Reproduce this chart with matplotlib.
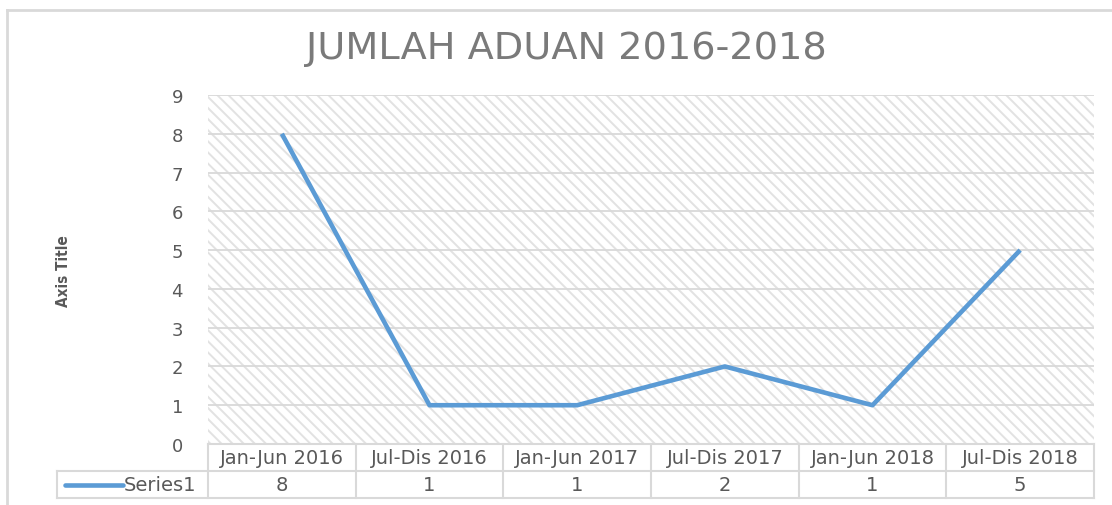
import matplotlib
matplotlib.use("Agg")
import matplotlib.pyplot as plt
from matplotlib.patches import Rectangle
from matplotlib.lines import Line2D

categories = ["Jan-Jun 2016", "Jul-Dis 2016", "Jan-Jun 2017", "Jul-Dis 2017", "Jan-Jun 2018", "Jul-Dis 2018"]
values = [8, 1, 1, 2, 1, 5]
series_name = "Series1"
title = "JUMLAH ADUAN 2016-2018"
y_title = "Axis Title"
y_ticks = list(range(0, 10))

BLUE = "#5B9BD5"
GRAY_TXT = "#595959"
GRID = "#d9d9d9"
FONT = "DejaVu Sans"

plt.rcParams["hatch.linewidth"] = 1.4
plt.rcParams["hatch.color"] = "#e2e2e2"

fig = plt.figure(figsize=(11.12, 5.06), dpi=100)
W, H = 1112, 506
ax = fig.add_axes([208 / W, 1 - 445 / H, (1094 - 208) / W, (445 - 96) / H])

n = len(categories)
xs = list(range(n))
ax.set_xlim(-0.5, n - 0.5)
ax.set_ylim(0, 9)

# hatched plot area
ax.add_patch(Rectangle((0, 0), 1, 1, transform=ax.transAxes, facecolor="white",
                       edgecolor="#e2e2e2", hatch="\\\\\\", lw=0, zorder=0))
for y in y_ticks[1:]:
    ax.axhline(y, color=GRID, lw=1.3, zorder=1)

ax.plot(xs, values, color=BLUE, lw=3.3, solid_capstyle="butt", zorder=3)

for s in ax.spines.values():
    s.set_visible(False)
ax.set_xticks([])
ax.set_yticks(y_ticks)
ax.tick_params(axis="y", length=0, pad=18, labelsize=13, labelcolor=GRAY_TXT)
for lbl in ax.get_yticklabels():
    lbl.set_fontfamily(FONT)

# data table
aw = 1094 - 208
ah = 445 - 96
r1 = -27 / ah
r2 = -54 / ah
tkw = dict(transform=ax.transAxes, color=GRID, lw=1.5, clip_on=False, zorder=2)
ax.add_line(Line2D([0, 1], [0, 0], **tkw))
ax.add_line(Line2D([(57 - 208) / aw, 1], [r1, r1], **tkw))
ax.add_line(Line2D([(57 - 208) / aw, 1], [r2, r2], **tkw))
ax.add_line(Line2D([(57 - 208) / aw] * 2, [r1, r2], **tkw))
for i in range(n + 1):
    xf = i / n
    ax.add_line(Line2D([xf, xf], [0, r2], **tkw))
for i, (c, v) in enumerate(zip(categories, values)):
    xc = (i + 0.5) / n
    ax.text(xc, r1 / 2, c, transform=ax.transAxes, ha="center", va="center",
            fontsize=14, color=GRAY_TXT, fontfamily=FONT)
    ax.text(xc, (r1 + r2) / 2, str(v), transform=ax.transAxes, ha="center", va="center",
            fontsize=14, color=GRAY_TXT, fontfamily=FONT)
# legend key in table
ym = (r1 + r2) / 2
ax.add_line(Line2D([(65 - 208) / aw, (123 - 208) / aw], [ym, ym], transform=ax.transAxes,
                   color=BLUE, lw=3.3, clip_on=False, solid_capstyle="round"))
ax.text((124 - 208) / aw, ym, series_name, transform=ax.transAxes, ha="left", va="center",
        fontsize=14, color=GRAY_TXT, fontfamily=FONT)

# title & axis title
fig.text(566 / W, 1 - 49 / H, title, ha="center", va="center", fontsize=27.5,
         color="#7a7a7a", fontfamily=FONT)
fig.text(63 / W, 1 - 271 / H, y_title, ha="center", va="center", rotation=90,
         fontsize=11, color=GRAY_TXT, fontweight="bold", fontstretch="condensed",
         fontfamily=FONT)

# outer chart border
fig.add_artist(Line2D([7 / W, 7 / W], [0, 1 - 11 / H], color=GRID, lw=2))
fig.add_artist(Line2D([7 / W, 1], [1 - 11 / H, 1 - 11 / H], color=GRID, lw=2))

fig.savefig("out.png", dpi=100)
